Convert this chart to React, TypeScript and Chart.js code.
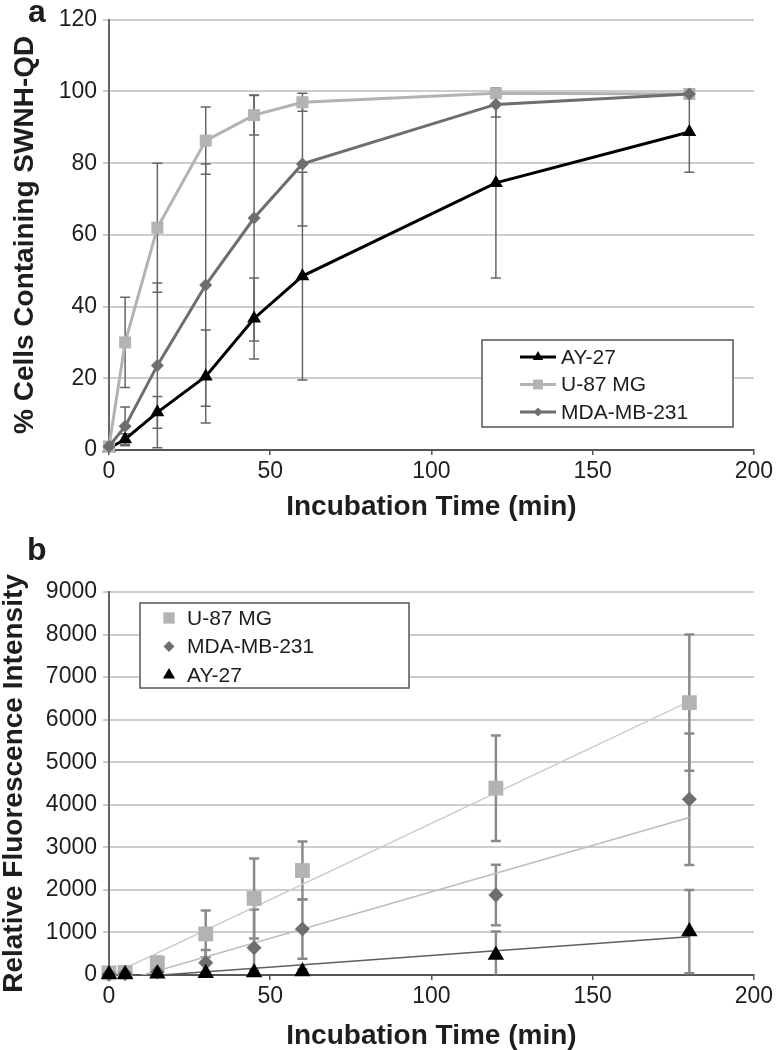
import React, { useEffect, useRef } from "react";
import { Chart, registerables } from "chart.js";

Chart.register(...registerables);

const FONT = '"Liberation Sans", Arial, Helvetica, sans-serif';
const TEXT = "#1e1e1e";

// ---------- data ----------
const timePoints = [0, 5, 15, 30, 45, 60, 120, 180];

// Panel a: % cells containing SWNH-QD
const ay27Pct = [0.5, 3, 10.5, 20.5, 36.7, 48.5, 74.5, 88.7];
const ay27PctErr = [0.5, 1.5, 4.4, 13, 11.3, 29, 26.5, 11.2];
const u87Pct = [1, 30, 62, 86.3, 93.4, 97, 99.5, 99.3];
const u87PctErr = [0.5, 12.6, 18, 9.4, 5.5, 2.5, 0.6, 0.5];
const mdaPct = [1, 6.6, 23.6, 46, 64.7, 79.8, 96.4, 99.3];
const mdaPctErr = [0.5, 5.4, 23, 33.8, 34.3, 17.3, 3.5, 0.6];

// Panel b: relative fluorescence intensity
const u87Fluor = [50, 60, 280, 965, 1800, 2455, 4390, 6400];
const u87FluorErr = [30, 30, 150, 550, 940, 680, 1240, 1600];
const mdaFluor = [20, 30, 70, 290, 640, 1080, 1880, 4130];
const mdaFluorErr = [10, 20, 50, 300, 900, 700, 710, 1545];
const ay27Fluor = [20, 20, 30, 40, 60, 80, 470, 1020];
const ay27FluorErr = [10, 10, 20, 30, 40, 50, 550, 980];

// Panel b linear trendlines (endpoints)
const trendX = [0, 180];
const u87Trend = [-20, 6430];
const mdaTrend = [-230, 3700];
const ay27Trend = [-90, 900];

const U87_COLOR = "#b3b3b3";
const MDA_COLOR = "#6e6e6e";
const AY_COLOR = "#000000";

const pts = (xs: number[], ys: number[]) => xs.map((x, i) => ({ x, y: ys[i] }));

// ---------- helpers ----------
function drawMarker(ctx: CanvasRenderingContext2D, style: string, x: number, y: number, r: number, color: string) {
  ctx.fillStyle = color;
  ctx.beginPath();
  if (style === "rect") {
    const s = r * Math.SQRT1_2;
    ctx.rect(x - s, y - s, 2 * s, 2 * s);
  } else if (style === "rectRot") {
    ctx.moveTo(x - r, y);
    ctx.lineTo(x, y - r);
    ctx.lineTo(x + r, y);
    ctx.lineTo(x, y + r);
    ctx.closePath();
  } else {
    const w = r * Math.sin(Math.PI / 3);
    ctx.moveTo(x, y - r);
    ctx.lineTo(x + w, y + r / 2);
    ctx.lineTo(x - w, y + r / 2);
    ctx.closePath();
  }
  ctx.fill();
}

const errorBarPlugin = {
  id: "errorBars",
  beforeDatasetsDraw(chart: any) {
    const { ctx, chartArea, scales } = chart;
    ctx.save();
    ctx.beginPath();
    ctx.rect(chartArea.left, chartArea.top - 10, chartArea.right - chartArea.left, chartArea.bottom - chartArea.top + 10);
    ctx.clip();
    chart.data.datasets.forEach((ds: any) => {
      if (!ds.errors) return;
      ctx.strokeStyle = ds.errorColor;
      ctx.lineWidth = ds.errorWidth;
      const cap = ds.errorCap;
      ds.data.forEach((p: any, i: number) => {
        const e = ds.errors[i];
        const x = scales.x.getPixelForValue(p.x);
        const yt = scales.y.getPixelForValue(p.y + e);
        const yb = scales.y.getPixelForValue(p.y - e);
        ctx.beginPath();
        ctx.moveTo(x, yt);
        ctx.lineTo(x, yb);
        ctx.moveTo(x - cap, yt);
        ctx.lineTo(x + cap, yt);
        ctx.moveTo(x - cap, yb);
        ctx.lineTo(x + cap, yb);
        ctx.stroke();
      });
    });
    ctx.restore();
  },
};

const legendPlugin = {
  id: "boxLegend",
  afterDraw(chart: any, _args: any, opts: any) {
    const { ctx } = chart;
    ctx.save();
    const [bx, by, bw, bh] = opts.box;
    ctx.fillStyle = "#ffffff";
    ctx.fillRect(bx, by, bw, bh);
    ctx.strokeStyle = "#555555";
    ctx.lineWidth = 1.5;
    ctx.strokeRect(bx, by, bw, bh);
    ctx.font = `21px ${FONT}`;
    ctx.textBaseline = "middle";
    ctx.textAlign = "left";
    opts.items.forEach((it: any, i: number) => {
      const y = opts.firstRow + i * opts.rowGap;
      if (opts.withLine) {
        ctx.strokeStyle = it.color;
        ctx.lineWidth = 3;
        ctx.beginPath();
        ctx.moveTo(opts.markerX - 18, y);
        ctx.lineTo(opts.markerX + 18, y);
        ctx.stroke();
      }
      drawMarker(ctx, it.style, opts.markerX, y, it.r, it.color);
      ctx.fillStyle = TEXT;
      ctx.fillText(it.label, opts.textX, y + 1);
    });
    ctx.font = `bold 32px ${FONT}`;
    ctx.textBaseline = "alphabetic";
    ctx.fillStyle = TEXT;
    ctx.fillText(opts.letter, opts.letterPos[0], opts.letterPos[1]);
    ctx.restore();
  },
};

function axisOptions(opts: {
  yMax: number;
  yStep: number;
  yTitle: string;
  yTitlePad: number;
  xHeight: number;
  xTitlePad: number;
}) {
  return {
    x: {
      type: "linear",
      min: 0,
      max: 200,
      ticks: {
        stepSize: 50,
        color: TEXT,
        font: { size: 23, family: FONT },
        padding: 3,
        maxRotation: 0,
        callback: (v: any) => String(v),
      },
      grid: { drawOnChartArea: false, drawTicks: true, tickLength: 5, color: "#555555", lineWidth: 1.5 },
      border: { display: true, color: "#555555", width: 2 },
      title: {
        display: true,
        text: "Incubation Time (min)",
        color: TEXT,
        font: { size: 28, weight: "bold", family: FONT, lineHeight: 1 },
        padding: { top: 0, bottom: opts.xTitlePad },
      },
      afterFit: (s: any) => {
        s.height = opts.xHeight;
      },
    },
    y: {
      type: "linear",
      min: 0,
      max: opts.yMax,
      ticks: {
        stepSize: opts.yStep,
        color: TEXT,
        font: { size: 23, family: FONT },
        padding: 6,
        callback: (v: any) => String(v),
      },
      grid: {
        color: (c: any) => (c.tick && c.tick.value === 0 ? "#555555" : "#cdcdcd"),
        lineWidth: 2,
        tickLength: 6,
        drawTicks: true,
      },
      border: { display: true, color: "#666666", width: 2 },
      title: {
        display: true,
        text: opts.yTitle,
        color: TEXT,
        font: { size: 28, weight: "bold", family: FONT, lineHeight: 1 },
        padding: { top: opts.yTitlePad, bottom: 0 },
      },
      afterFit: (s: any) => {
        s.width = 109;
      },
    },
  };
}

function configA(): any {
  const errCommon = { errorColor: "#666666", errorWidth: 1.5, errorCap: 5 };
  return {
    type: "scatter",
    data: {
      datasets: [
        {
          label: "MDA-MB-231",
          data: pts(timePoints, mdaPct),
          showLine: true,
          borderColor: MDA_COLOR,
          backgroundColor: MDA_COLOR,
          borderWidth: 3,
          pointStyle: "rectRot",
          pointRadius: 6.5,
          pointBorderWidth: 0,
          clip: false,
          errors: mdaPctErr,
          ...errCommon,
        },
        {
          label: "U-87 MG",
          data: pts(timePoints, u87Pct),
          showLine: true,
          borderColor: U87_COLOR,
          backgroundColor: U87_COLOR,
          borderWidth: 3,
          pointStyle: "rect",
          pointRadius: 8.5,
          pointBorderWidth: 0,
          clip: false,
          errors: u87PctErr,
          ...errCommon,
        },
        {
          label: "AY-27",
          data: pts(timePoints, ay27Pct),
          showLine: true,
          borderColor: AY_COLOR,
          backgroundColor: AY_COLOR,
          borderWidth: 3,
          pointStyle: "triangle",
          pointRadius: 8,
          pointBorderWidth: 0,
          clip: false,
          errors: ay27PctErr,
          ...errCommon,
        },
      ],
    },
    options: {
      responsive: false,
      animation: false,
      events: [],
      layout: { padding: { left: 0, right: 22, top: 14, bottom: 0 } },
      scales: axisOptions({
        yMax: 120,
        yStep: 20,
        yTitle: "% Cells Containing SWNH-QD",
        yTitlePad: 11,
        xHeight: 80,
        xTitlePad: 9,
      }),
      plugins: {
        legend: { display: false },
        tooltip: { enabled: false },
        boxLegend: {
          box: [482, 340, 251, 87],
          firstRow: 357,
          rowGap: 27.5,
          markerX: 538,
          textX: 561,
          withLine: true,
          letter: "a",
          letterPos: [28, 22],
          items: [
            { label: "AY-27", color: AY_COLOR, style: "triangle", r: 6 },
            { label: "U-87 MG", color: U87_COLOR, style: "rect", r: 7 },
            { label: "MDA-MB-231", color: MDA_COLOR, style: "rectRot", r: 4.5 },
          ],
        },
      },
    },
    plugins: [errorBarPlugin, legendPlugin],
  };
}

function configB(): any {
  const errCommon = { errorColor: "#8a8a8a", errorWidth: 2.5, errorCap: 5 };
  const trendCommon = { showLine: true, pointRadius: 0, borderWidth: 1.5, clip: 0 };
  return {
    type: "scatter",
    data: {
      datasets: [
        {
          label: "AY-27",
          data: pts(timePoints, ay27Fluor),
          backgroundColor: AY_COLOR,
          borderColor: AY_COLOR,
          pointStyle: "triangle",
          pointRadius: 9.5,
          pointBorderWidth: 0,
          clip: false,
          errors: ay27FluorErr,
          ...errCommon,
        },
        {
          label: "MDA-MB-231",
          data: pts(timePoints, mdaFluor),
          backgroundColor: MDA_COLOR,
          borderColor: MDA_COLOR,
          pointStyle: "rectRot",
          pointRadius: 7.5,
          pointBorderWidth: 0,
          clip: false,
          errors: mdaFluorErr,
          ...errCommon,
        },
        {
          label: "U-87 MG",
          data: pts(timePoints, u87Fluor),
          backgroundColor: U87_COLOR,
          borderColor: U87_COLOR,
          pointStyle: "rect",
          pointRadius: 10.5,
          pointBorderWidth: 0,
          clip: false,
          errors: u87FluorErr,
          ...errCommon,
        },
        { label: "U-87 trend", data: pts(trendX, u87Trend), borderColor: "#cccccc", ...trendCommon },
        { label: "MDA trend", data: pts(trendX, mdaTrend), borderColor: "#bcbcbc", ...trendCommon },
        { label: "AY trend", data: pts(trendX, ay27Trend), borderColor: "#5e5e5e", ...trendCommon },
      ],
    },
    options: {
      responsive: false,
      animation: false,
      events: [],
      layout: { padding: { left: 0, right: 21, top: 62, bottom: 0 } },
      scales: axisOptions({
        yMax: 9000,
        yStep: 1000,
        yTitle: "Relative Fluorescence Intensity",
        yTitlePad: 0,
        xHeight: 75,
        xTitlePad: 0,
      }),
      plugins: {
        legend: { display: false },
        tooltip: { enabled: false },
        boxLegend: {
          box: [140, 73, 269, 85],
          firstRow: 88,
          rowGap: 28.5,
          markerX: 169,
          textX: 187,
          withLine: false,
          letter: "b",
          letterPos: [27, 30],
          items: [
            { label: "U-87 MG", color: U87_COLOR, style: "rect", r: 8 },
            { label: "MDA-MB-231", color: MDA_COLOR, style: "rectRot", r: 5.5 },
            { label: "AY-27", color: AY_COLOR, style: "triangle", r: 7 },
          ],
        },
      },
    },
    plugins: [errorBarPlugin, legendPlugin],
  };
}

function ChartCanvas({ makeConfig, width, height }: { makeConfig: () => any; width: number; height: number }) {
  const ref = useRef<HTMLCanvasElement | null>(null);
  useEffect(() => {
    if (!ref.current) return;
    const chart = new Chart(ref.current, makeConfig());
    return () => chart.destroy();
  }, [makeConfig]);
  return <canvas ref={ref} width={width} height={height} style={{ display: "block", width, height }} />;
}

export default function App() {
  return (
    <div style={{ position: "absolute", left: 0, top: 0, width: 776, height: 1050, background: "#ffffff", overflow: "hidden" }}>
      <div style={{ position: "absolute", left: 0, top: 0 }}>
        <ChartCanvas makeConfig={configA} width={776} height={530} />
      </div>
      <div style={{ position: "absolute", left: 0, top: 530 }}>
        <ChartCanvas makeConfig={configB} width={776} height={520} />
      </div>
    </div>
  );
}
